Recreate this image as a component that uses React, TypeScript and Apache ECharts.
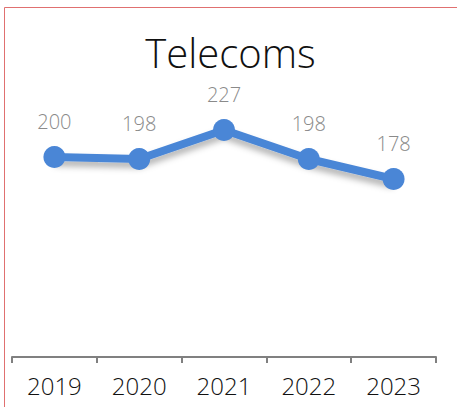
import React, { useEffect, useRef } from "react";
import * as echarts from "echarts";

const categories = ["2019", "2020", "2021", "2022", "2023"];
const values = [200, 198, 227, 198, 178];
const titleText = "Telecoms";

export default function App() {
  const ref = useRef<HTMLDivElement>(null);
  useEffect(() => {
    if (!ref.current) return;
    const chart = echarts.init(ref.current, null, { renderer: "svg" });
    chart.setOption({
      animation: false,
      backgroundColor: "#ffffff",
      title: {
        text: titleText,
        left: "center",
        top: 27,
        textStyle: {
          fontFamily: "Open Sans",
          fontSize: 40,
          fontWeight: 300,
          color: "#111111",
        },
      },
      graphic: [
        { type: "line", shape: { x1: 4.5, y1: 7.5, x2: 4.5, y2: 407 }, style: { stroke: "#e07070", lineWidth: 1 } },
        { type: "line", shape: { x1: 4.5, y1: 7.5, x2: 457, y2: 7.5 }, style: { stroke: "#e07070", lineWidth: 1 } },
      ],
      grid: { left: 12, right: 25, top: 107, bottom: 50 },
      xAxis: {
        type: "category",
        data: categories,
        boundaryGap: true,
        axisLine: { lineStyle: { color: "#808080", width: 2 } },
        axisTick: { show: true, length: 6, lineStyle: { color: "#808080", width: 2 } },
        axisLabel: {
          fontFamily: "Open Sans",
          fontSize: 24,
          fontWeight: 300,
          color: "#111111",
          margin: 16,
        },
      },
      yAxis: {
        type: "value",
        min: 0,
        max: 250,
        show: false,
        splitLine: { show: false },
      },
      series: [
        {
          type: "line",
          data: values,
          symbol: "circle",
          symbolSize: 22,
          itemStyle: { color: "#4a86d6" },
          lineStyle: {
            color: "#4a86d6",
            width: 8,
            shadowColor: "rgba(0,0,0,0.3)",
            shadowBlur: 6,
            shadowOffsetY: 5,
          },
          label: {
            show: true,
            position: "top",
            distance: 15,
            fontFamily: "Open Sans",
            fontSize: 20,
            fontWeight: 300,
            color: "#8a8a8a",
          },
        },
      ],
    });
    return () => chart.dispose();
  }, []);
  return (
    <div style={{ position: "fixed", left: 0, top: 0 }}>
      <div ref={ref} style={{ width: 461, height: 407 }} />
    </div>
  );
}
